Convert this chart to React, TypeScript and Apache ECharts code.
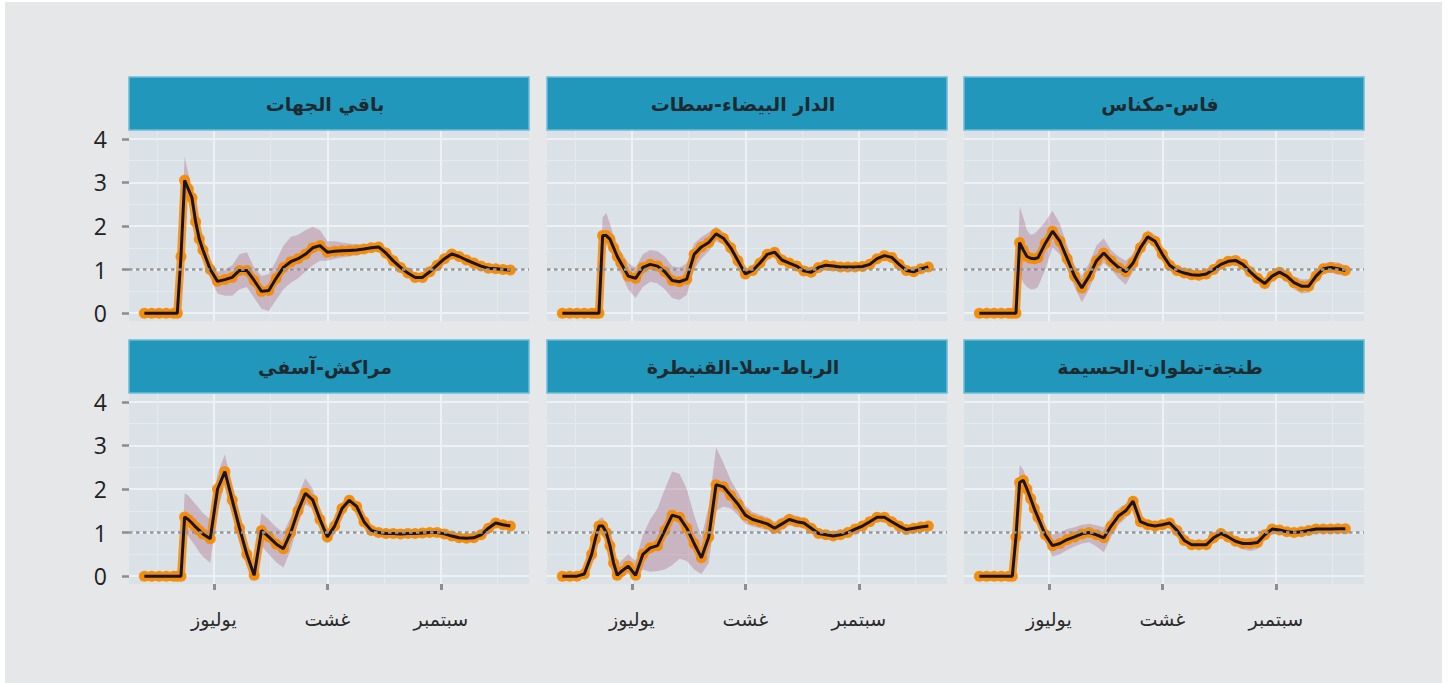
import React, { useEffect, useRef } from 'react';
import * as echarts from 'echarts';

// days relative to 1 July
const days = [-19, -17, -15, -13, -11, -10, -9, -8, -7, -6, -5, -4, -3, -1, 1, 3, 5, 7, 9, 11, 13, 15, 17, 19, 21, 23, 25, 27, 29, 31, 33, 35, 37, 39, 41, 43, 45, 47, 49, 51, 53, 55, 57, 59, 61, 63, 65, 67, 69, 71, 73, 75, 77, 79, 81];
const monthTicks = [0, 31, 62];
const monthLabels = ['يوليوز', 'غشت', 'سبتمبر'];
const minorDays = [-15.5, 15.5, 46.5, 77.5];
const yTicks = [0, 1, 2, 3, 4];
const yMinor = [0.5, 1.5, 2.5, 3.5];

const regions = ['باقي الجهات', 'الدار البيضاء-سطات', 'فاس-مكناس', 'مراكش-آسفي', 'الرباط-سلا-القنيطرة', 'طنجة-تطوان-الحسيمة'];

const rt1 = [0, 0, 0, 0, 0, 0, 1.3, 3.05, 2.85, 2.65, 2.1, 1.7, 1.45, 1.0, 0.73, 0.77, 0.82, 0.98, 0.98, 0.75, 0.5, 0.52, 0.8, 1.05, 1.18, 1.25, 1.35, 1.5, 1.55, 1.4, 1.42, 1.43, 1.44, 1.45, 1.47, 1.5, 1.52, 1.38, 1.2, 1.05, 0.92, 0.82, 0.82, 0.95, 1.1, 1.25, 1.36, 1.3, 1.22, 1.15, 1.08, 1.03, 1.02, 1.0, 0.99];
const lo1 = [0, 0, 0, 0, 0, 0, 1.1, 2.7, 2.6, 2.4, 1.9, 1.5, 1.25, 0.8, 0.45, 0.4, 0.4, 0.55, 0.6, 0.35, 0.1, 0.05, 0.3, 0.55, 0.7, 0.8, 0.95, 1.1, 1.2, 1.2, 1.25, 1.28, 1.3, 1.33, 1.37, 1.42, 1.44, 1.3, 1.13, 0.98, 0.85, 0.75, 0.75, 0.88, 1.03, 1.18, 1.29, 1.24, 1.16, 1.09, 1.02, 0.97, 0.96, 0.94, 0.93];
const hi1 = [0, 0, 0, 0, 0, 0, 1.5, 3.6, 3.2, 2.9, 2.3, 1.9, 1.65, 1.2, 0.95, 1.0, 1.1, 1.35, 1.4, 1.05, 0.85, 0.9, 1.2, 1.55, 1.75, 1.8, 1.9, 1.98, 1.9, 1.65, 1.65, 1.62, 1.6, 1.58, 1.58, 1.6, 1.6, 1.46, 1.27, 1.12, 0.99, 0.89, 0.89, 1.02, 1.17, 1.32, 1.43, 1.36, 1.28, 1.21, 1.14, 1.09, 1.08, 1.06, 1.05];

const rt2 = [0, 0, 0, 0, 0, 0, 0, 1.78, 1.78, 1.7, 1.5, 1.3, 1.15, 0.85, 0.8, 1.05, 1.12, 1.08, 0.95, 0.75, 0.72, 0.78, 1.35, 1.52, 1.62, 1.82, 1.72, 1.5, 1.2, 0.9, 0.98, 1.15, 1.35, 1.4, 1.22, 1.15, 1.08, 0.97, 0.94, 1.05, 1.1, 1.08, 1.06, 1.06, 1.06, 1.07, 1.12, 1.25, 1.32, 1.28, 1.12, 0.98, 0.95, 1.02, 1.06];
const lo2 = [0, 0, 0, 0, 0, 0, 0, 1.6, 1.55, 1.45, 1.25, 1.05, 0.9, 0.55, 0.35, 0.6, 0.72, 0.68, 0.55, 0.35, 0.3, 0.42, 1.0, 1.25, 1.42, 1.65, 1.58, 1.4, 1.12, 0.82, 0.9, 1.07, 1.27, 1.32, 1.15, 1.08, 1.01, 0.9, 0.87, 0.98, 1.03, 1.01, 0.99, 0.99, 0.99, 1.0, 1.05, 1.18, 1.25, 1.21, 1.05, 0.91, 0.88, 0.95, 0.99];
const hi2 = [0, 0, 0, 0, 0, 0, 0, 2.2, 2.3, 2.05, 1.78, 1.58, 1.42, 1.15, 1.05, 1.35, 1.45, 1.42, 1.3, 1.08, 1.05, 1.15, 1.6, 1.75, 1.85, 1.98, 1.86, 1.62, 1.3, 0.98, 1.06, 1.23, 1.43, 1.48, 1.29, 1.22, 1.15, 1.04, 1.01, 1.12, 1.17, 1.15, 1.13, 1.13, 1.13, 1.14, 1.19, 1.32, 1.39, 1.35, 1.19, 1.05, 1.02, 1.09, 1.13];

const rt3 = [0, 0, 0, 0, 0, 0, 0, 1.62, 1.45, 1.3, 1.26, 1.25, 1.27, 1.6, 1.88, 1.65, 1.25, 0.85, 0.58, 0.85, 1.2, 1.38, 1.2, 1.05, 0.95, 1.15, 1.5, 1.75, 1.65, 1.35, 1.1, 0.98, 0.92, 0.88, 0.87, 0.9, 1.0, 1.12, 1.19, 1.21, 1.12, 0.95, 0.8, 0.68, 0.85, 0.94, 0.85, 0.7, 0.62, 0.62, 0.85, 1.02, 1.05, 1.02, 0.98];
const lo3 = [0, 0, 0, 0, 0, 0, 0, 0.9, 0.7, 0.6, 0.55, 0.55, 0.6, 1.0, 1.5, 1.35, 1.0, 0.6, 0.25, 0.55, 0.95, 1.15, 1.0, 0.8, 0.65, 0.95, 1.35, 1.62, 1.52, 1.22, 0.98, 0.87, 0.82, 0.78, 0.77, 0.8, 0.9, 1.02, 1.09, 1.1, 1.01, 0.84, 0.69, 0.55, 0.73, 0.82, 0.72, 0.55, 0.45, 0.47, 0.72, 0.9, 0.93, 0.88, 0.86];
const hi3 = [0, 0, 0, 0, 0, 0, 0, 2.45, 2.2, 1.9, 1.8, 1.82, 1.9, 2.1, 2.35, 2.05, 1.55, 1.1, 0.85, 1.15, 1.55, 1.72, 1.45, 1.3, 1.2, 1.35, 1.68, 1.9, 1.8, 1.48, 1.22, 1.09, 1.02, 0.98, 0.97, 1.0, 1.1, 1.22, 1.3, 1.32, 1.23, 1.06, 0.91, 0.8, 0.97, 1.06, 0.98, 0.84, 0.78, 0.78, 0.98, 1.14, 1.18, 1.16, 1.1];

const rt4 = [0, 0, 0, 0, 0, 0, 0, 1.36, 1.3, 1.22, 1.13, 1.05, 0.97, 0.86, 2.0, 2.4, 1.75, 1.1, 0.5, 0.02, 1.05, 0.9, 0.74, 0.63, 1.0, 1.5, 1.9, 1.75, 1.3, 0.9, 1.15, 1.55, 1.74, 1.6, 1.25, 1.05, 1.0, 0.98, 0.98, 0.97, 0.98, 0.98, 0.99, 1.0, 1.0, 0.97, 0.92, 0.88, 0.87, 0.88, 0.95, 1.1, 1.22, 1.18, 1.15];
const lo4 = [0, 0, 0, 0, 0, 0, 0, 1.0, 0.92, 0.8, 0.68, 0.55, 0.45, 0.3, 1.5, 2.1, 1.45, 0.8, 0.28, 0.0, 0.7, 0.5, 0.32, 0.2, 0.6, 1.2, 1.65, 1.55, 1.12, 0.75, 1.0, 1.42, 1.63, 1.5, 1.16, 0.97, 0.93, 0.91, 0.91, 0.9, 0.91, 0.91, 0.92, 0.93, 0.93, 0.9, 0.85, 0.81, 0.8, 0.81, 0.88, 1.03, 1.15, 1.11, 1.08];
const hi4 = [0, 0, 0, 0, 0, 0, 0, 1.9, 1.85, 1.75, 1.65, 1.55, 1.45, 1.3, 2.35, 2.8, 2.05, 1.4, 0.75, 0.15, 1.45, 1.3, 1.12, 1.0, 1.35, 1.85, 2.25, 2.0, 1.5, 1.05, 1.3, 1.68, 1.85, 1.7, 1.34, 1.13, 1.07, 1.05, 1.05, 1.04, 1.05, 1.05, 1.06, 1.07, 1.07, 1.04, 0.99, 0.95, 0.94, 0.95, 1.02, 1.17, 1.29, 1.25, 1.22];

const rt5 = [0, 0, 0, 0.05, 0.5, 0.85, 1.15, 1.15, 1.0, 0.7, 0.3, 0.02, 0.1, 0.23, 0.02, 0.5, 0.65, 0.7, 1.05, 1.4, 1.35, 1.1, 0.75, 0.42, 0.9, 2.1, 2.05, 1.85, 1.65, 1.4, 1.3, 1.25, 1.2, 1.1, 1.2, 1.3, 1.25, 1.22, 1.1, 0.98, 0.95, 0.92, 0.95, 1.0, 1.08, 1.15, 1.25, 1.35, 1.35, 1.25, 1.15, 1.07, 1.1, 1.13, 1.15];
const lo5 = [0, 0, 0, 0, 0.35, 0.7, 1.0, 1.0, 0.85, 0.55, 0.15, 0, 0, 0.05, 0, 0.15, 0.1, 0.12, 0.15, 0.25, 0.4, 0.35, 0.15, 0.05, 0.3, 1.5, 1.6, 1.55, 1.4, 1.2, 1.14, 1.1, 1.06, 0.96, 1.06, 1.16, 1.12, 1.1, 0.99, 0.88, 0.85, 0.83, 0.86, 0.91, 0.99, 1.06, 1.16, 1.26, 1.26, 1.17, 1.07, 1.0, 1.03, 1.06, 1.08];
const hi5 = [0, 0, 0, 0.15, 0.65, 1.0, 1.32, 1.35, 1.2, 0.9, 0.5, 0.25, 0.35, 0.5, 0.35, 0.95, 1.3, 1.55, 2.0, 2.4, 2.35, 2.0, 1.4, 0.9, 1.6, 2.95, 2.6, 2.2, 1.92, 1.62, 1.47, 1.41, 1.35, 1.25, 1.34, 1.44, 1.38, 1.34, 1.21, 1.08, 1.05, 1.01, 1.04, 1.09, 1.17, 1.24, 1.34, 1.44, 1.44, 1.33, 1.23, 1.14, 1.17, 1.2, 1.22];

const rt6 = [0, 0, 0, 0, 0, 0, 0.9, 2.15, 2.2, 2.0, 1.78, 1.55, 1.35, 0.95, 0.7, 0.75, 0.84, 0.9, 0.97, 1.0, 0.95, 0.88, 1.15, 1.38, 1.5, 1.72, 1.25, 1.18, 1.15, 1.18, 1.22, 1.05, 0.82, 0.72, 0.72, 0.72, 0.88, 0.98, 0.9, 0.8, 0.75, 0.75, 0.77, 0.95, 1.08, 1.06, 1.02, 1.0, 1.02, 1.05, 1.08, 1.08, 1.08, 1.09, 1.09];
const lo6 = [0, 0, 0, 0, 0, 0, 0.8, 1.95, 2.0, 1.85, 1.62, 1.4, 1.2, 0.8, 0.45, 0.5, 0.6, 0.68, 0.75, 0.78, 0.68, 0.55, 0.9, 1.18, 1.33, 1.58, 1.13, 1.07, 1.04, 1.07, 1.11, 0.95, 0.72, 0.63, 0.63, 0.63, 0.79, 0.89, 0.81, 0.7, 0.62, 0.58, 0.62, 0.86, 0.99, 0.98, 0.94, 0.93, 0.95, 0.98, 1.01, 1.01, 1.01, 1.02, 1.02];
const hi6 = [0, 0, 0, 0, 0, 0, 1.0, 2.55, 2.45, 2.2, 1.95, 1.7, 1.5, 1.1, 0.95, 1.0, 1.08, 1.12, 1.18, 1.2, 1.17, 1.12, 1.35, 1.55, 1.66, 1.85, 1.37, 1.29, 1.26, 1.29, 1.33, 1.15, 0.92, 0.81, 0.81, 0.81, 0.97, 1.07, 0.99, 0.9, 0.86, 0.88, 0.9, 1.05, 1.17, 1.14, 1.1, 1.07, 1.09, 1.12, 1.15, 1.15, 1.15, 1.16, 1.16];

const rtAll = [rt1, rt2, rt3, rt4, rt5, rt6];
const loAll = [lo1, lo2, lo3, lo4, lo5, lo6];
const hiAll = [hi1, hi2, hi3, hi4, hi5, hi6];

// layout
const colLeft = [129, 547, 964];
const panelW = 400;
const rowTop = [131, 394];
const panelH = 190;
const stripTop = [77, 340];
const stripH = 53;
const X_MIN = -23.2;
const X_MAX = 86.1;
const Y_MIN = -0.18;
const Y_MAX = 4.18;

const ARABIC = '"DejaVu Sans", "Noto Sans", sans-serif';
const LATIN = '"Open Sans", "Noto Sans", sans-serif';
const ORANGE = '#f28c0a';

function buildOption() {
  const grids: any[] = [];
  const xAxes: any[] = [];
  const yAxes: any[] = [];
  const series: any[] = [];
  const graphics: any[] = [];

  for (let i = 0; i < 6; i++) {
    const row = i < 3 ? 0 : 1;
    const col = i % 3;
    grids.push({
      left: colLeft[col], top: rowTop[row], width: panelW, height: panelH,
      show: true, backgroundColor: '#dbe2e7', borderWidth: 0, containLabel: false,
    });
    xAxes.push({
      type: 'value', gridIndex: i, min: X_MIN, max: X_MAX, position: 'bottom',
      axisLine: { show: false, onZero: false },
      axisTick: { show: row === 1, customValues: monthTicks, length: 6, lineStyle: { color: '#8d8d8d', width: 3 } },
      axisLabel: {
        show: row === 1, customValues: monthTicks, margin: 25, fontSize: 19, color: '#2a2a2a', fontFamily: ARABIC,
        formatter: (v: number) => monthLabels[monthTicks.indexOf(Math.round(v))] ?? '',
      },
      splitLine: { show: true, lineStyle: { color: '#eef1f3', width: 2 } },
    });
    xAxes.push({
      type: 'value', gridIndex: i, min: X_MIN, max: X_MAX, position: 'bottom',
      axisLine: { show: false, onZero: false },
      axisTick: { show: false, customValues: minorDays },
      axisLabel: { show: false, customValues: minorDays },
      splitLine: { show: true, lineStyle: { color: '#e5eaed', width: 1 } },
    });
    yAxes.push({
      type: 'value', gridIndex: i, min: Y_MIN, max: Y_MAX, position: 'left',
      axisLine: { show: false, onZero: false },
      axisTick: { show: col === 0, customValues: yTicks, length: 7, lineStyle: { color: '#8d8d8d', width: 2.5 } },
      axisLabel: { show: col === 0, customValues: yTicks, margin: 22, fontSize: 23, color: '#222', fontFamily: LATIN },
      splitLine: { show: true, lineStyle: { color: '#eef1f3', width: 2 } },
    });
    yAxes.push({
      type: 'value', gridIndex: i, min: Y_MIN, max: Y_MAX, position: 'left',
      axisLine: { show: false, onZero: false },
      axisTick: { show: false, customValues: yMinor },
      axisLabel: { show: false, customValues: yMinor },
      splitLine: { show: true, lineStyle: { color: '#e5eaed', width: 1 } },
    });

    const xi = 2 * i;
    const yi = 2 * i;
    const rt = rtAll[i];
    const lo = loAll[i];
    const hi = hiAll[i];
    const pts = days.map((d, k) => [d, rt[k]]);

    series.push({
      type: 'custom', xAxisIndex: xi, yAxisIndex: yi, silent: true, z: 1,
      data: [[days[0], lo[0]]],
      renderItem: (_params: any, api: any) => {
        const upper = days.map((d, k) => api.coord([d, hi[k]]));
        const lower = days.map((d, k) => api.coord([d, lo[k]])).reverse();
        return {
          type: 'polygon',
          shape: { points: upper.concat(lower) },
          style: { fill: 'rgba(165,85,115,0.32)', stroke: 'none' },
        };
      },
      markLine: {
        silent: true, symbol: 'none', label: { show: false },
        lineStyle: { type: [3.5, 3.5], color: '#969696', width: 2.5 },
        data: [{ yAxis: 1 }],
      },
    });
    // orange halo that joins the daily-looking dots
    series.push({
      type: 'line', xAxisIndex: xi, yAxisIndex: yi, silent: true, z: 2,
      data: pts, symbol: 'none',
      lineStyle: { color: ORANGE, width: 8, opacity: 0.85, cap: 'round', join: 'round' },
    });
    series.push({
      type: 'scatter', xAxisIndex: xi, yAxisIndex: yi, silent: true, z: 2,
      data: pts, symbolSize: 11,
      itemStyle: { color: ORANGE, opacity: 0.95 },
    });
    series.push({
      type: 'line', xAxisIndex: xi, yAxisIndex: yi, silent: true, z: 3,
      data: pts, symbol: 'none',
      lineStyle: { color: '#1c1426', width: 3 },
    });

    graphics.push({
      type: 'rect', shape: { x: colLeft[col], y: stripTop[row], width: panelW, height: stripH },
      style: { fill: '#2297bc', stroke: '#6cbcd6', lineWidth: 1.5 }, z: 10,
    });
    graphics.push({
      type: 'text', x: colLeft[col] + panelW / 2 - 4, y: stripTop[row] + stripH / 2, z: 11,
      style: {
        text: regions[i], fill: '#1d2b31', font: `bold 19px ${ARABIC}`,
        textAlign: 'center', textVerticalAlign: 'middle',
      },
    });
  }

  graphics.push({ type: 'rect', shape: { x: 0, y: 0, width: 5, height: 683 }, style: { fill: '#ffffff' }, z: 20 });
  graphics.push({ type: 'rect', shape: { x: 1442, y: 0, width: 8, height: 683 }, style: { fill: '#ffffff' }, z: 20 });
  graphics.push({ type: 'rect', shape: { x: 0, y: 0, width: 1450, height: 2 }, style: { fill: '#ffffff' }, z: 20 });

  return {
    animation: false,
    backgroundColor: '#e6e7e9',
    grid: grids,
    xAxis: xAxes,
    yAxis: yAxes,
    series,
    graphic: { elements: graphics },
  };
}

export default function App() {
  const ref = useRef<HTMLDivElement>(null);
  useEffect(() => {
    const chart = echarts.init(ref.current!, null, { renderer: 'svg' });
    chart.setOption(buildOption());
    return () => chart.dispose();
  }, []);
  return <div ref={ref} style={{ position: 'fixed', left: 0, top: 0, width: 1450, height: 683 }} />;
}
